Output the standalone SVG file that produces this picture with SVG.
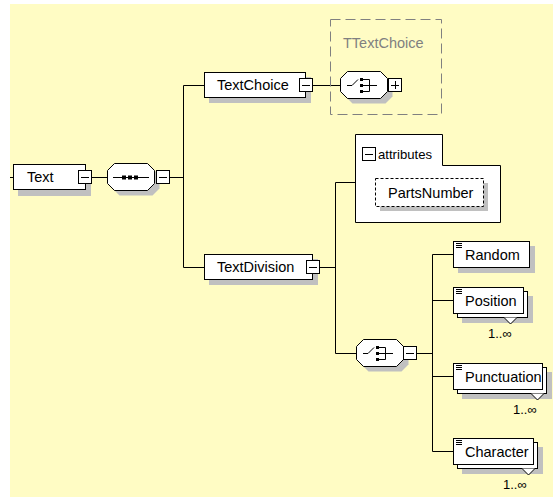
<svg xmlns="http://www.w3.org/2000/svg" width="553" height="497" viewBox="0 0 553 497">
<style>
.bg{fill:#FFFCC4}
.box{fill:#fff;stroke:#000;stroke-width:1}
.sh{fill:#C0C0C0}
.ln{stroke:#000;stroke-width:1;fill:none}
.lbl{font-family:"Liberation Sans",Arial,sans-serif;font-size:14.5px;fill:#000}
.mult{font-family:"Liberation Sans",Arial,sans-serif;font-size:13px;fill:#000}
.btn{fill:#fff;stroke:#000;stroke-width:1}
.dash{fill:#fff;stroke:#000;stroke-width:1;stroke-dasharray:3,2}
.ico{stroke:#000;stroke-width:1}
</style>
<defs>
<g id="minus"><rect x="0.5" y="0.5" width="13" height="13" class="btn"/><line x1="3" y1="7.5" x2="11" y2="7.5" class="ln"/></g>
<g id="plus"><rect x="0.5" y="0.5" width="13" height="13" class="btn"/><line x1="3" y1="7.5" x2="11" y2="7.5" class="ln"/><line x1="7.5" y1="3" x2="7.5" y2="11" class="ln"/></g>
<polygon id="oct" points="7.5,0.5 40.5,0.5 47.5,7.5 47.5,20.5 40.5,27.5 7.5,27.5 0.5,20.5 0.5,7.5"/>
<g id="choicesym">
<path d="M7,14.5 H12 L18,8.5" class="ln"/>
<rect x="20" y="7" width="3" height="3"/>
<rect x="20" y="13" width="3" height="3"/>
<rect x="20" y="19" width="3" height="3"/>
<path d="M23,8.5 H29.5 V20.5 H23 M23,14.5 H37" class="ln"/>
</g>
<g id="elicon"><path d="M0,0.5 H6 M0,2.5 H6 M0,4.5 H6" class="ico"/></g>
</defs>
<rect x="10" y="4" width="543" height="493" class="bg"/>

<g id="connectors">
<path d="M10,177.5 H13.5" class="ln"/>
<path d="M91.5,177.5 H107.5" class="ln"/>
<path d="M169.5,177.5 H183.5" class="ln"/>
<path d="M183.5,85.5 V267.5" class="ln"/>
<path d="M183.5,85.5 H204.5" class="ln"/>
<path d="M183.5,267.5 H204.5" class="ln"/>
<path d="M312.5,85.5 H340.5" class="ln"/>
<path d="M319.5,267.5 H335.5" class="ln"/>
<path d="M335.5,182.5 V353.5" class="ln"/>
<path d="M335.5,182.5 H355.5" class="ln"/>
<path d="M335.5,353.5 H356.5" class="ln"/>
<path d="M416.5,353.5 H432.5" class="ln"/>
<path d="M432.5,254.5 V451.5" class="ln"/>
<path d="M432.5,254.5 H453.5 M432.5,300.5 H453.5 M432.5,376.5 H453.5 M432.5,451.5 H453.5" class="ln"/>
</g>

<g id="node-Text">
<rect x="18" y="170" width="73" height="26" class="sh"/>
<rect x="13.5" y="164.5" width="72" height="25" class="box"/>
<text x="27" y="182" class="lbl">Text</text>
<use href="#minus" x="78" y="170"/>
</g>

<g id="node-sequence">
<use href="#oct" x="112" y="168" class="sh"/>
<use href="#oct" x="107" y="163" class="box"/>
<path d="M113,177.5 H149" class="ln"/>
<rect x="122" y="175.5" width="4" height="4"/>
<rect x="128" y="175.5" width="4" height="4"/>
<rect x="134" y="175.5" width="4" height="4"/>
<use href="#minus" x="156" y="170"/>
</g>

<g id="node-TextChoice">
<rect x="209" y="77" width="102" height="26" class="sh"/>
<rect x="204.5" y="72.5" width="101" height="25" class="box"/>
<text x="217" y="90" class="lbl">TextChoice</text>
<use href="#minus" x="299" y="78"/>
</g>

<g id="node-TTextChoice">
<rect x="330.5" y="19.5" width="111" height="95" fill="none" stroke="#808080" stroke-width="1" stroke-dasharray="10,5"/>
<text x="343" y="48" class="lbl" fill="#808080" style="fill:#808080">TTextChoice</text>
<use href="#oct" x="345" y="76" class="sh"/>
<use href="#oct" x="340" y="71" class="box"/>
<use href="#choicesym" x="340" y="71"/>
<use href="#plus" x="388" y="78"/>
</g>

<g id="node-TextDivision">
<rect x="209" y="259" width="109" height="26" class="sh"/>
<rect x="204.5" y="254.5" width="108" height="25" class="box"/>
<text x="217" y="272" class="lbl">TextDivision</text>
<use href="#minus" x="306" y="260"/>
</g>

<g id="node-attributes">
<path d="M355.5,222.5 V134.5 H442.5 V165.5 H500.5 V222.5 Z" class="box"/>
<use href="#minus" x="362" y="147"/>
<text x="378" y="159" class="mult" textLength="54" lengthAdjust="spacingAndGlyphs">attributes</text>
</g>

<g id="node-PartsNumber">
<rect x="380" y="183" width="108" height="28" class="sh"/>
<rect x="375.5" y="178.5" width="108" height="28" class="dash"/>
<text x="388" y="198" class="lbl">PartsNumber</text>
</g>

<g id="node-choice">
<use href="#oct" x="361" y="344" class="sh"/>
<use href="#oct" x="356" y="339" class="box"/>
<use href="#choicesym" x="356" y="339"/>
<use href="#minus" x="403" y="346"/>
</g>

<g id="node-Random">
<rect x="458" y="246" width="77" height="27" class="sh"/>
<rect x="453.5" y="241.5" width="76" height="26" class="box"/>
<use href="#elicon" x="456" y="243"/>
<text x="465" y="260" class="lbl">Random</text>
</g>

<g id="node-Position">
<rect x="462" y="296" width="71" height="27" class="sh"/>
<rect x="457.5" y="291.5" width="70" height="26" class="box"/>
<rect x="453.5" y="287.5" width="70" height="26" class="box"/>
<use href="#elicon" x="456" y="289"/>
<text x="465" y="306" class="lbl">Position</text>
<polyline points="504,317.5 510.5,324 517,317.5" class="box"/>
<text x="488" y="338" class="mult">1..∞</text>
</g>

<g id="node-Punctuation">
<rect x="462" y="372" width="90" height="27" class="sh"/>
<rect x="457.5" y="367.5" width="89" height="26" class="box"/>
<rect x="453.5" y="363.5" width="89" height="26" class="box"/>
<use href="#elicon" x="456" y="365"/>
<text x="465" y="382" class="lbl">Punctuation</text>
<polyline points="531,393.5 537.5,400 544,393.5" class="box"/>
<text x="513" y="414" class="mult">1..∞</text>
</g>

<g id="node-Character">
<rect x="462" y="447" width="81" height="27" class="sh"/>
<rect x="457.5" y="442.5" width="80" height="26" class="box"/>
<rect x="453.5" y="438.5" width="80" height="26" class="box"/>
<use href="#elicon" x="456" y="440"/>
<text x="465" y="457" class="lbl">Character</text>
<polyline points="522,468.5 528.5,475 535,468.5" class="box"/>
<text x="503" y="489" class="mult">1..∞</text>
</g>
</svg>
